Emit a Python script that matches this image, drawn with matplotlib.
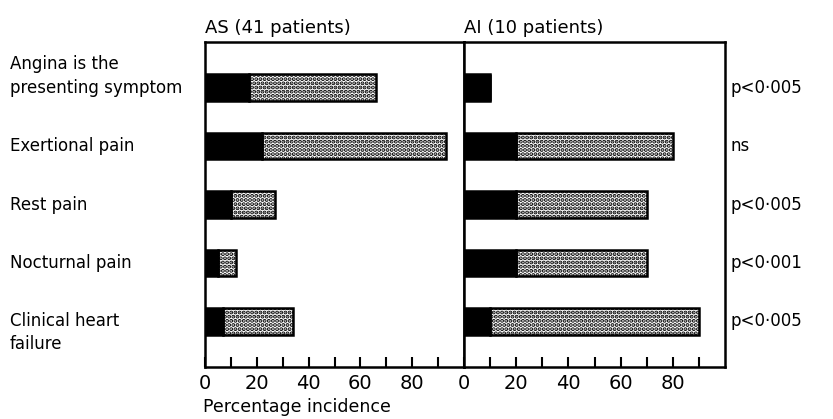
import numpy as np
import matplotlib
matplotlib.use('Agg')
import matplotlib.pyplot as plt
from matplotlib import transforms

# data
categories = ['Angina is the\npresenting symptom', 'Exertional pain', 'Rest pain',
              'Nocturnal pain', 'Clinical heart\nfailure']
as_black = [17, 22, 10, 5, 7]
as_total = [66, 93, 27, 12, 34]
ai_black = [10, 20, 20, 20, 10]
ai_total = [10, 80, 70, 70, 90]
p_values = ['p<0·005', 'ns', 'p<0·005', 'p<0·001', 'p<0·005']
panel_titles = ['AS (41 patients)', 'AI (10 patients)']
x_label = 'Percentage incidence'

plt.rcParams['font.family'] = 'DejaVu Sans'
plt.rcParams['hatch.linewidth'] = 2.0
plt.rcParams['hatch.color'] = 'black'

W, H = 833, 419
fig = plt.figure(figsize=(W / 100, H / 100), dpi=100)
ax1 = fig.add_axes([205 / W, 52 / H, 259 / W, 325 / H])
ax2 = fig.add_axes([464 / W, 52 / H, 261 / W, 325 / H])

y = np.arange(len(categories))
bar_h = 0.46

for ax, black, total, title in [(ax1, as_black, as_total, panel_titles[0]),
                                (ax2, ai_black, ai_total, panel_titles[1])]:
    black = np.array(black)
    total = np.array(total)
    ax.barh(y, total - black, left=black, height=bar_h, facecolor='white',
            edgecolor='black', hatch='....', linewidth=1.8)
    ax.barh(y, black, height=bar_h, color='black', edgecolor='black', linewidth=1.8)
    ax.set_xlim(0, 100)
    ax.set_ylim(len(categories) - 0.22, -0.78)
    ax.set_yticks([])
    ax.set_xticks(np.arange(0, 100, 10))
    ax.set_xticklabels([str(v) if v % 20 == 0 else '' for v in range(0, 100, 10)])
    ax.tick_params(axis='x', direction='in', length=7, width=1.5, labelsize=14, pad=5)
    for s in ax.spines.values():
        s.set_linewidth(1.8)
    ax.text(0, 1 + 9 / 325, title, transform=ax.transAxes, fontsize=13,
            va='baseline', ha='left')

# category labels on the far left
trans = transforms.blended_transform_factory(fig.transFigure, ax1.transData)
offsets = [-0.2, 0, 0, 0, 0.19]
for yi, lab, off in zip(y, categories, offsets):
    fig.text(10 / W, yi + off, lab, transform=trans, fontsize=12, va='center',
             ha='left', linespacing=1.4)

# p values on the right
trans2 = transforms.blended_transform_factory(ax2.transAxes, ax2.transData)
for yi, p in zip(y, p_values):
    ax2.text(1.02, yi, p, transform=trans2, fontsize=12, va='center', ha='left')

fig.text(203 / W, 1 - 412 / H, x_label, fontsize=12.5, va='baseline', ha='left')

fig.savefig('out.png', dpi=100)
